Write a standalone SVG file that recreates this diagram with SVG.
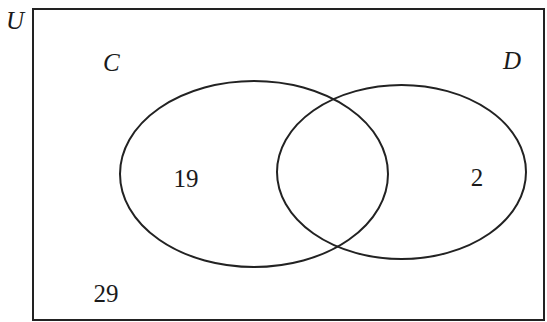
<svg xmlns="http://www.w3.org/2000/svg" width="547" height="322" viewBox="0 0 547 322">
<style>
.ln{fill:none;stroke:#222;stroke-width:2}
.t{font-family:"Liberation Serif","Times New Roman",serif;font-size:25px;fill:#1a1a1a}
.i{font-style:italic}
</style>
<rect width="547" height="322" fill="#fff"/>
<g id="universe"><rect class="ln" x="33" y="9" width="511" height="311"/><text class="t i" x="6" y="29">U</text></g>
<g id="setC"><ellipse class="ln" cx="254" cy="174" rx="134" ry="93"/><text class="t i" x="103" y="71">C</text></g>
<g id="setD"><ellipse class="ln" cx="401.5" cy="172" rx="124.5" ry="87"/><text class="t i" x="503" y="69">D</text></g>
<g id="labels">
<text class="t" x="186" y="187" text-anchor="middle">19</text>
<text class="t" x="477" y="186" text-anchor="middle">2</text>
<text class="t" x="106" y="302" text-anchor="middle">29</text>
</g>
<g id="connectors"/>
</svg>
